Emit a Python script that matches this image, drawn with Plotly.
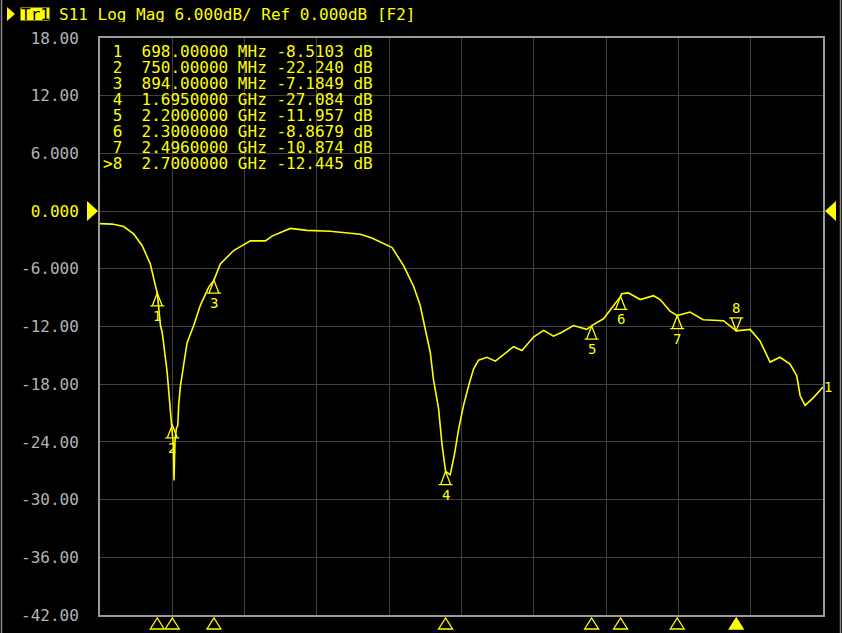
import plotly.graph_objects as go

# ---------------- data ----------------
freq_mhz = [500, 542, 582, 617, 646, 674, 692, 698, 709, 715, 732, 744, 750, 754, 756,
            759, 764, 769, 772, 778, 801, 824, 847, 876, 894, 916, 962, 1020, 1072, 1095,
            1158, 1216, 1296, 1331, 1400, 1440, 1469, 1510, 1550, 1584, 1607, 1625, 1642,
            1653, 1671, 1682, 1695, 1711, 1725, 1740, 1757, 1778, 1792, 1809, 1838, 1867,
            1895, 1930, 1959, 1999, 2034, 2068, 2097, 2137, 2183, 2200, 2206, 2241, 2281,
            2300, 2304, 2327, 2368, 2414, 2437, 2471, 2496, 2540, 2586, 2656, 2700, 2748,
            2782, 2817, 2851, 2886, 2909, 2921, 2938, 2967, 3000]
s11_db = [-1.3, -1.35, -1.6, -2.4, -3.6, -5.5, -7.8, -8.51, -11.9, -12.6, -16.7, -20.9, -22.24,
          -24.5, -28.0, -24.0, -22.6, -22.3, -20.2, -18.2, -13.7, -11.9, -9.8, -7.9, -7.18, -5.5,
          -4.1, -3.1, -3.1, -2.6, -1.8, -2.0, -2.1, -2.2, -2.4, -2.8, -3.2, -3.8, -5.7, -7.8,
          -9.8, -12.3, -14.7, -17.5, -20.6, -24.1, -27.08, -27.4, -25.4, -22.7, -20.2, -17.8,
          -16.4, -15.5, -15.2, -15.6, -14.9, -14.1, -14.5, -13.1, -12.4, -13.0, -12.6, -11.9,
          -12.3, -11.96, -11.8, -11.2, -9.7, -8.87, -8.6, -8.5, -9.2, -8.8, -9.2, -10.4, -10.87,
          -10.5, -11.3, -11.4, -12.45, -12.3, -13.5, -15.7, -15.2, -15.9, -17.1, -19.2, -20.2,
          -19.4, -18.3]

marker_ids = [1, 2, 3, 4, 5, 6, 7, 8]
marker_freq_mhz = [698, 750, 894, 1695, 2200, 2300, 2496, 2700]
marker_db = [-8.5103, -22.240, -7.1849, -27.084, -11.957, -8.8679, -10.874, -12.445]
active_marker = 8

f_start, f_stop, f_div = 500, 3000, 250
ref_level, scale_div = 0.0, 6.0
y_ticks = [18, 12, 6, 0, -6, -12, -18, -24, -30, -36, -42]
y_ticktext = ["18.00", "12.00", "6.000", "0.000", "-6.000", "-12.00", "-18.00",
              "-24.00", "-30.00", "-36.00", "-42.00"]
header_text = "S11 Log Mag 6.000dB/ Ref 0.000dB [F2]"
trace_name = "Tr1"

# ---------------- style ----------------
W, H = 842, 633
L, R, T, B = 100, 19, 38, 18
PW, PH = W - L - R, H - T - B
YEL = "#ffff00"
GRID = "#404040"
FRAME = "#9a9a9a"
TXT_GRAY = "#b4b4b4"
MONO = "DejaVu Sans Mono"


def px(x):
    return (x - L) / PW


def py(y):
    return 1 - (y - T) / PH


fig = go.Figure()
fig.add_trace(go.Scatter(x=freq_mhz, y=s11_db, mode="lines",
                         line=dict(color=YEL, width=1.6), hoverinfo="skip",
                         showlegend=False))

annotations = []
shapes = []

# marker symbols on the trace and stimulus triangles under the axis
for mid, f, v in zip(marker_ids, marker_freq_mhz, marker_db):
    active = mid == active_marker
    if active:
        path = "M 0 0 L -5 13 L 5 13 Z M -7 13 L 7 13"
        lab_shift, lab_anchor = 14, "bottom"
    else:
        path = "M 0 0 L -5 -13 L 5 -13 Z M -7 -13 L 7 -13"
        lab_shift, lab_anchor = -14, "top"
    shapes.append(dict(type="path", xref="x", yref="y", xsizemode="pixel",
                       ysizemode="pixel", xanchor=f, yanchor=v, path=path,
                       line=dict(color=YEL, width=1.3)))
    annotations.append(dict(x=f, y=v, xref="x", yref="y", text=str(mid),
                            showarrow=False, yshift=lab_shift, yanchor=lab_anchor,
                            borderpad=0,
                            font=dict(family=MONO, size=14, color=YEL)))
    shapes.append(dict(type="path", xref="x", yref="paper", xsizemode="pixel",
                       ysizemode="pixel", xanchor=f, yanchor=0,
                       path="M -7 -14 L 7 -14 L 0 -3 Z",
                       fillcolor=YEL if active else "rgba(0,0,0,0)",
                       line=dict(color=YEL, width=1.3)))

# trace end label
annotations.append(dict(x=freq_mhz[-1], y=s11_db[-1], xref="x", yref="y", text="1",
                        showarrow=False, xanchor="left", xshift=0, borderpad=0,
                        font=dict(family=MONO, size=14, color=YEL)))

# marker table
for i, (mid, f, v) in enumerate(zip(marker_ids, marker_freq_mhz, marker_db)):
    if f < 1000:
        ftxt, unit = f"{f:.5f}", "MHz"
    else:
        ftxt, unit = f"{f / 1000:.7f}", "GHz"
    vtxt = f"{v:.4f}" if abs(v) < 10 else f"{v:.3f}"
    prefix = ">" if mid == active_marker else " "
    row = f"{prefix}{mid}  {ftxt} {unit} {vtxt} dB".replace(" ", "\u00a0")
    annotations.append(dict(x=px(102), y=py(51.0 + 16.1 * i), xref="paper", yref="paper",
                            xanchor="left", yanchor="middle", text=row, showarrow=False,
                            borderpad=0, height=15,
                            font=dict(family=MONO, size=16, color=YEL)))

# header
shapes.append(dict(type="rect", xref="paper", yref="paper", x0=px(20.5), x1=px(49.5),
                   y0=py(20.5), y1=py(7.5), fillcolor=YEL, line=dict(width=0)))
shapes.append(dict(type="path", xref="paper", yref="paper", xsizemode="pixel",
                   ysizemode="pixel", xanchor=px(7), yanchor=py(14),
                   path="M 0 -7 L 8 0 L 0 7 Z", fillcolor=YEL, line=dict(width=0)))
annotations.append(dict(x=px(35), y=py(14.5), xref="paper", yref="paper", xanchor="center",
                        yanchor="middle", text=trace_name, showarrow=False, borderpad=0,
                        height=15, font=dict(family=MONO, size=16, color="#000000")))
annotations.append(dict(x=px(58), y=py(14.5), xref="paper", yref="paper", xanchor="left",
                        yanchor="middle", text=header_text.replace(" ", "\u00a0"),
                        showarrow=False, borderpad=0, height=15,
                        font=dict(family=MONO, size=16, color=YEL)))

# reference level arrows
shapes.append(dict(type="path", xref="paper", yref="y", xsizemode="pixel",
                   ysizemode="pixel", xanchor=0, yanchor=ref_level,
                   path="M -13 -10 L -2 0 L -13 10 Z", fillcolor=YEL, line=dict(width=0)))
shapes.append(dict(type="path", xref="paper", yref="y", xsizemode="pixel",
                   ysizemode="pixel", xanchor=1, yanchor=ref_level,
                   path="M 13 -10 L 2 0 L 13 10 Z", fillcolor=YEL, line=dict(width=0)))

# outer side lines of the screen
for xp in (1.5, 840.5):
    shapes.append(dict(type="line", xref="paper", yref="paper", x0=px(xp), x1=px(xp),
                       y0=py(633), y1=py(0), line=dict(color="#8a8a8a", width=1.5)))

tick_colors = [YEL if t == ref_level else TXT_GRAY for t in y_ticks]
ticktext = [f"<span style='color:{c}'>{t}</span>" for t, c in zip(y_ticktext, tick_colors)]

fig.update_layout(
    width=W, height=H,
    margin=dict(l=L, r=R, t=T, b=B, pad=0, autoexpand=False),
    paper_bgcolor="#000000", plot_bgcolor="#000000",
    showlegend=False,
    xaxis=dict(range=[f_start, f_stop], dtick=f_div, tick0=f_start, showgrid=True,
               gridcolor=GRID, gridwidth=1, showticklabels=False, zeroline=False,
               showline=True, linecolor=FRAME, linewidth=2, mirror=True, ticks="",
               automargin=False),
    yaxis=dict(range=[y_ticks[-1], y_ticks[0]], tickvals=y_ticks, ticktext=ticktext,
               showgrid=True, gridcolor=GRID, gridwidth=1, zeroline=False,
               showline=True, linecolor=FRAME, linewidth=2, mirror=True,
               ticks="outside", ticklen=16, tickcolor="rgba(0,0,0,0)",
               tickfont=dict(family=MONO, size=16, color=TXT_GRAY), automargin=False),
    annotations=annotations,
    shapes=shapes,
)

fig.write_html("out.html", config={"displayModeBar": False},
               post_script="document.body.style.margin='0';document.body.style.background='#000';")
